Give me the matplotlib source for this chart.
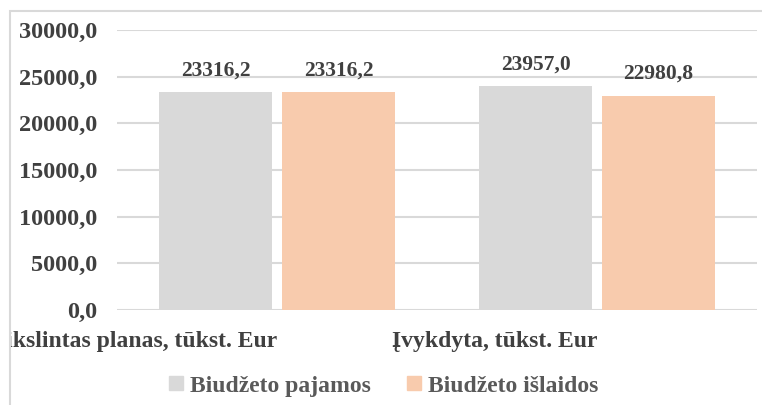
import matplotlib.pyplot as plt
from matplotlib.lines import Line2D
from matplotlib.patches import Rectangle
import matplotlib.transforms as mtransforms

categories = ['Patikslintas planas, tūkst. Eur', 'Įvykdyta, tūkst. Eur']
pajamos = [23316.2, 23957.0]
islaidos = [23316.2, 22980.8]
series_names = ['Biudžeto pajamos', 'Biudžeto išlaidos']
yticks = [0, 5000, 10000, 15000, 20000, 25000, 30000]

c_gray = '#d9d9d9'
c_peach = '#f8cbad'
txt = '#404040'
FONT = 'Liberation Serif'

W, H = 762, 405
fig = plt.figure(figsize=(W / 100, H / 100), dpi=100)
ax = fig.add_axes([117 / W, 1 - 310 / H, 640 / W, 280 / H])

# outer chart frame (only left and top edges visible in the crop)
frame = Rectangle((10 / W, -0.1), 1.2, 1 - 11 / H + 0.1, transform=fig.transFigure,
                  fill=False, edgecolor=c_gray, linewidth=1.5)
fig.add_artist(frame)

x = list(range(len(categories)))
w = 113 / 320
off = 61.5 / 320
b1 = ax.bar([i - off for i in x], pajamos, width=w, color=c_gray, zorder=2)
b2 = ax.bar([i + off for i in x], islaidos, width=w, color=c_peach, zorder=2)

for bars in (b1, b2):
    for r in bars:
        v = r.get_height()
        ax.text(r.get_x() + r.get_width() / 2, v + 1250, f'{v:.1f}'.replace('.', ','),
                ha='center', va='bottom', fontsize=15.5, color=txt, fontweight='bold',
                family=FONT)

ax.set_xlim(-0.5, 1.5)
ax.set_ylim(0, 30000)
ax.set_yticks(yticks)
ax.set_yticklabels([f'{v:.1f}'.replace('.', ',') for v in yticks], fontsize=17.5, color=txt,
                   fontweight='bold', family=FONT)
ax.tick_params(axis='y', length=0, pad=14)
ax.set_xticks([])
ax.grid(axis='y', color=c_gray, linewidth=1.5, zorder=0)
for s in ax.spines.values():
    s.set_visible(False)

# category labels, right edge at category centre, clipped by the frame
tr = mtransforms.blended_transform_factory(ax.transData, fig.transFigure)
clip = Rectangle((10 / W, 0), 1, 1, transform=fig.transFigure, visible=False)
fig.add_artist(clip)
for i, c in zip(x, categories):
    t = ax.text(i, 1 - 341 / H, c, transform=tr, ha='right', va='center',
                fontsize=17, color=txt, fontweight='bold', family=FONT, clip_on=True)
    t.set_clip_path(clip)

handles = [Line2D([], [], marker='s', linestyle='none', markersize=9.4, color=c_gray),
           Line2D([], [], marker='s', linestyle='none', markersize=9.4, color=c_peach)]
fig.legend(handles, series_names, loc='center', bbox_to_anchor=(383 / W, 1 - 386 / H),
           ncol=2, frameon=False, handlelength=0.7, handletextpad=0.25, columnspacing=1.45,
           borderpad=0, prop={'family': FONT, 'size': 17, 'weight': 'bold'},
           labelcolor='#595959')

fig.savefig('out.png', dpi=100)
